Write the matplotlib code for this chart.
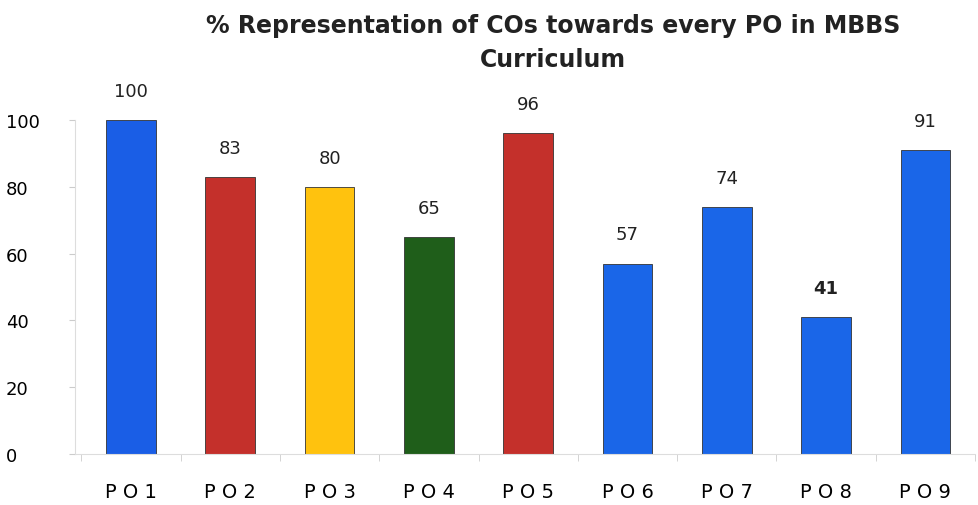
import matplotlib.pyplot as plt
import numpy as np

categories = ["P O 1", "P O 2", "P O 3", "P O 4", "P O 5", "P O 6", "P O 7", "P O 8", "P O 9"]
values = [100, 83, 80, 65, 96, 57, 74, 41, 91]
bar_colors = ["#1a5ee6", "#c4302b", "#ffc20e", "#1f5e1a", "#c4302b",
              "#1a66e8", "#1a66e8", "#1a66e8", "#1a66e8"]
yticks = [0, 20, 40, 60, 80, 100]

fig = plt.figure(figsize=(9.79, 5.06), dpi=100)
ax = fig.add_axes([0.077, 0.101, 0.919, 0.66])

x = np.arange(len(categories))
ax.bar(x, values, width=0.5, color=bar_colors, edgecolor="#333333", linewidth=0.6)

# data labels above bars
for xi, v in zip(x, values):
    weight = "bold" if v == 41 else "normal"
    ax.text(xi, v + 6, str(v), ha="center", va="bottom", fontsize=13,
            fontweight=weight, color="#222222", clip_on=False)

ax.set_xlim(-0.56, 8.4)
ax.set_ylim(0, 100)
ax.set_yticks(yticks)
ax.set_yticklabels([str(t) for t in yticks], fontsize=13)
ax.set_xticks(x)
ax.set_xticklabels(categories, fontsize=14)
ax.tick_params(axis="x", length=0, pad=20)
ax.tick_params(axis="y", length=4, color="#cccccc", pad=46)
for lbl in ax.get_yticklabels():
    lbl.set_horizontalalignment("left")

# small separator ticks along the baseline
ax.set_xticks(np.arange(-0.5, 9, 1), minor=True)
ax.tick_params(axis="x", which="minor", length=5, color="#cccccc")

for side in ["top", "right"]:
    ax.spines[side].set_visible(False)
ax.spines["left"].set_color("#dddddd")
ax.spines["bottom"].set_color("#dddddd")

fig.text(0.565, 0.948, "% Representation of COs towards every PO in MBBS",
         ha="center", va="center", fontsize=17, fontweight="bold", color="#222222")
fig.text(0.565, 0.882, "Curriculum", ha="center", va="center",
         fontsize=17, fontweight="bold", color="#222222")

fig.savefig("out.png", dpi=100)
